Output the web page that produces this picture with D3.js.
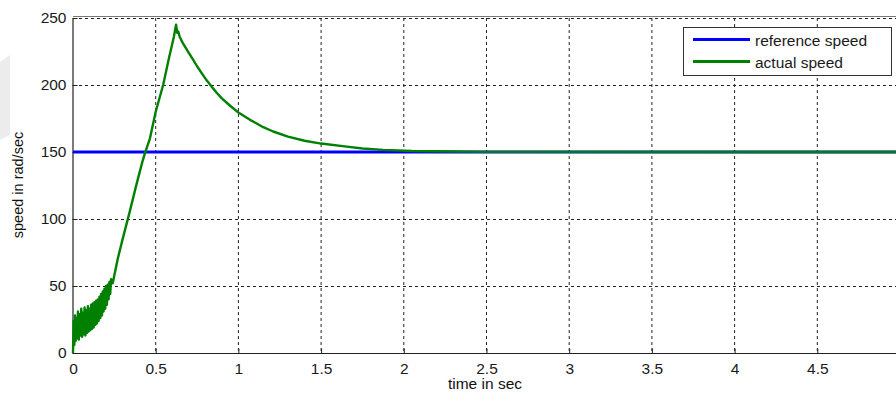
<!DOCTYPE html>
<html><head><meta charset="utf-8">
<script src="https://cdn.jsdelivr.net/npm/d3@7"></script>
<style>body{margin:0;background:#fff;overflow:hidden}svg{display:block}text{font-family:"Liberation Sans",Arial,sans-serif}</style>
</head><body><svg id="c" width="896" height="394"></svg>
<script>
// ---- data ----
const xTicks = [0, 0.5, 1, 1.5, 2, 2.5, 3, 3.5, 4, 4.5];
const xTickLabels = ["0", "0.5", "1", "1.5", "2", "2.5", "3", "3.5", "4", "4.5"];
const yTicks = [0, 50, 100, 150, 200, 250];
const yTickLabels = ["0", "50", "100", "150", "200", "250"];
const seriesNames = ["reference speed", "actual speed"];
const refTime = [0, 5];
const refSpeed = [150, 150];
const actTime = [
  0, 0.004, 0.008, 0.012, 0.016, 0.02, 0.025, 0.03, 0.035, 0.04, 0.045, 0.05, 0.055, 0.06, 0.065,
  0.07, 0.075, 0.08, 0.085, 0.09, 0.095, 0.1, 0.105, 0.11, 0.115, 0.12, 0.125, 0.13, 0.135, 0.14,
  0.145, 0.15, 0.155, 0.16, 0.165, 0.17, 0.175, 0.18, 0.185, 0.19, 0.195, 0.2, 0.205, 0.21, 0.215,
  0.22, 0.225, 0.23, 0.24, 0.25, 0.27, 0.3, 0.34, 0.38, 0.42, 0.44, 0.465, 0.5, 0.545, 0.58, 0.61,
  0.623, 0.63, 0.636, 0.645, 0.665, 0.7, 0.726, 0.75, 0.78, 0.808, 0.84, 0.87, 0.9, 0.95, 1.0, 1.07,
  1.1, 1.15, 1.21, 1.3, 1.4, 1.5, 1.655, 1.75, 1.875, 2.05, 2.3, 2.5, 5
];
const actSpeed = [
  0, 24, 6, 28, 9, 26, 11, 31, 10, 29, 13, 33, 12, 30, 14,
  34, 13, 32, 15, 35, 16, 33, 17, 36, 18, 37, 19, 38, 21, 39,
  22, 40, 24, 42, 26, 44, 28, 46, 31, 48, 33, 50, 36, 51, 40,
  53, 44, 55, 52, 58, 70, 85, 104, 124, 143, 151, 160, 180, 200, 220, 236,
  245, 239, 240, 236, 231, 224, 219, 214, 208.5, 203.5, 198.5, 194, 190, 184.5, 179.5, 174,
  172, 168.5, 165.3, 161.5, 158.4, 156.3, 154, 152.6, 151.6, 150.8, 150.4, 150.1, 150
];

// ---- layout ----
const W = 896, H = 394;
const m = {left: 73, top: 18, bottom: 353};
const plotRight = 900;
const svg = d3.select("#c");
const x = d3.scaleLinear().domain([0, 5]).range([m.left, plotRight]);
const y = d3.scaleLinear().domain([0, 250]).range([m.bottom, m.top]);

// watermark-like faint shapes
svg.append("path").attr("d", "M0,62 L10,55 L10,135 L0,140 Z").attr("fill", "#ececec");

// grid
const g = svg.append("g");
g.selectAll(".vg").data(xTicks.filter(d => d > 0)).join("line")
  .attr("x1", d => x(d)).attr("x2", d => x(d)).attr("y1", m.top).attr("y2", m.bottom)
  .attr("stroke", "#222").attr("stroke-width", 1).attr("stroke-dasharray", "3,3");
g.selectAll(".hg").data(yTicks.filter(d => d > 0)).join("line")
  .attr("x1", m.left).attr("x2", W).attr("y1", d => y(d) + 0.5).attr("y2", d => y(d) + 0.5)
  .attr("stroke", "#222").attr("stroke-width", 1).attr("stroke-dasharray", "3,3");

// top box line
svg.append("line").attr("x1", m.left).attr("x2", W).attr("y1", m.top - 1.5).attr("y2", m.top - 1.5)
  .attr("stroke", "#777").attr("stroke-width", 1);

// axes
const xAxis = d3.axisBottom(x).tickValues(xTicks).tickFormat((d, i) => xTickLabels[i])
  .tickSizeInner(-5).tickSizeOuter(0).tickPadding(9);
const gx = svg.append("g").attr("transform", `translate(0,${m.bottom + 0.5})`).call(xAxis);
const yAxis = d3.axisLeft(y).tickValues(yTicks).tickFormat((d, i) => yTickLabels[i])
  .tickSizeInner(-5).tickSizeOuter(0).tickPadding(6);
const gy = svg.append("g").attr("transform", `translate(${m.left - 0.5},0)`).call(yAxis);
[gx, gy].forEach(a => {
  a.select(".domain").attr("stroke", "#222").attr("stroke-width", 1.2);
  a.selectAll(".tick line").attr("stroke", "#222");
  a.selectAll("text").attr("font-size", 15.5).attr("fill", "#1a1a1a")
    .attr("font-family", '"Liberation Sans", Arial, sans-serif');
});
gx.select(".domain").attr("d", `M${m.left},0H${W}`);

// lines
const line = d3.line().x(d => x(d[0])).y(d => y(d[1]));
svg.append("path").datum(refTime.map((t, i) => [t, refSpeed[i]]))
  .attr("d", line).attr("fill", "none").attr("stroke", "#0000ff").attr("stroke-width", 3);
svg.append("path").datum(actTime.map((t, i) => [t, actSpeed[i]]))
  .attr("d", line).attr("fill", "none").attr("stroke", "#008000").attr("stroke-width", 2.4)
  .attr("stroke-linejoin", "round");

// axis titles
svg.append("text").attr("x", 485).attr("y", 389).attr("text-anchor", "middle")
  .attr("font-size", 15.5).attr("fill", "#111").text("time in sec");
svg.append("text").attr("transform", "translate(23,185) rotate(-90)").attr("text-anchor", "middle")
  .attr("font-size", 14.5).attr("fill", "#111").text("speed in rad/sec");

// legend
const lg = svg.append("g");
lg.append("rect").attr("x", 683.5).attr("y", 27.5).attr("width", 208).attr("height", 48)
  .attr("fill", "#fff").attr("stroke", "#333").attr("stroke-width", 1);
const colors = ["#0000ff", "#008000"];
seriesNames.forEach((n, i) => {
  const yy = 39.5 + i * 22;
  lg.append("line").attr("x1", 693).attr("x2", 750).attr("y1", yy).attr("y2", yy)
    .attr("stroke", colors[i]).attr("stroke-width", 3);
  lg.append("text").attr("x", 755).attr("y", yy + 6).attr("font-size", 15.5).attr("fill", "#1a1a1a").text(n);
});
</script></body></html>
